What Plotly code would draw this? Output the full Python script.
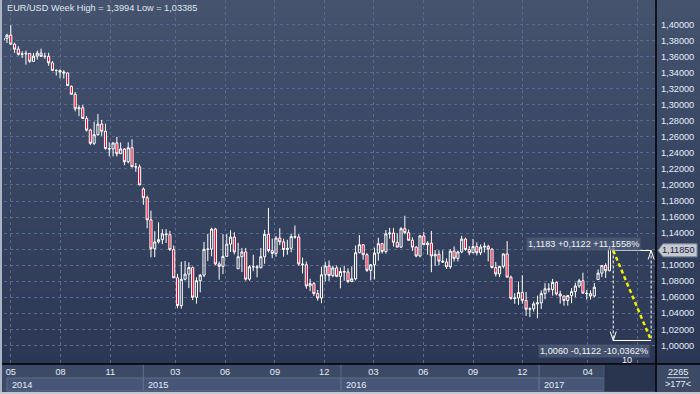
import pandas as pd
import plotly.graph_objects as go

# ---------------- data (weekly EUR/USD, weeks starting Sunday) ----------------
first_week = "2014-04-20"

opens = [
    # 2014
    1.3810, 1.3830, 1.3870, 1.3757, 1.3695, 1.3630, 1.3635, 1.3642, 1.3543, 1.3608,
    1.3645, 1.3605, 1.3605, 1.3524, 1.3429, 1.3429, 1.3410, 1.3398, 1.3230, 1.3132,
    1.2951, 1.2963, 1.2830, 1.2685, 1.2520, 1.2628, 1.2760, 1.2670, 1.2455, 1.2450,
    1.2525, 1.2390, 1.2450, 1.2290, 1.2465, 1.2228, 1.2225,
    # 2015
    1.1950, 1.1841, 1.1565, 1.1205, 1.1290, 1.1318, 1.1390, 1.1380, 1.1195, 1.0842,
    1.0495, 1.0824, 1.0888, 1.0970, 1.0600, 1.0806, 1.0875, 1.1197, 1.1200, 1.1450,
    1.1015, 1.0985, 1.1110, 1.1263, 1.1350, 1.0955, 1.1105, 1.1165, 1.0825, 1.0980,
    1.0980, 1.0968, 1.1105, 1.1385, 1.1182, 1.1147, 1.1338, 1.1290, 1.1195, 1.1210,
    1.1358, 1.1350, 1.1015, 1.1005, 1.0740, 1.0770, 1.0645, 1.0590, 1.0880, 1.0990,
    1.0870, 1.0965,
    # 2016
    1.0860, 1.0920, 1.0915, 1.0795, 1.0830, 1.1155, 1.1255, 1.1130, 1.0935, 1.1005,
    1.1150, 1.1268, 1.1170, 1.1390, 1.1400, 1.1285, 1.1225, 1.1455, 1.1405, 1.1310,
    1.1225, 1.1115, 1.1365, 1.1255, 1.1275, 1.1115, 1.1135, 1.1050, 1.1040, 1.0980,
    1.1175, 1.1085, 1.1165, 1.1325, 1.1195, 1.1155, 1.1232, 1.1155, 1.1225, 1.1235,
    1.1200, 1.0970, 1.0890, 1.0985, 1.1140, 1.0850, 1.0585, 1.0590, 1.0660, 1.0560,
    1.0450, 1.0455,
    # 2017
    1.0517, 1.0530, 1.0645, 1.0705, 1.0695, 1.0785, 1.0640, 1.0615, 1.0560, 1.0620,
    1.0670, 1.0740, 1.0805, 1.0650, 1.0645, 1.0615, 1.0820, 1.0900, 1.0995, 1.0930,
    1.1208,
]
highs = [
    1.3853, 1.3885, 1.3994, 1.3775, 1.3732, 1.3669, 1.3677, 1.3643, 1.3646, 1.3677,
    1.3701, 1.3650, 1.3650, 1.3546, 1.3444, 1.3443, 1.3433, 1.3402, 1.3243, 1.3160,
    1.2995, 1.3000, 1.2860, 1.2702, 1.2791, 1.2887, 1.2813, 1.2765, 1.2532, 1.2530,
    1.2601, 1.2531, 1.2457, 1.2532, 1.2570, 1.2275, 1.2255,
    1.1970, 1.1868, 1.1680, 1.1423, 1.1534, 1.1450, 1.1449, 1.1428, 1.1245, 1.0890,
    1.1043, 1.1052, 1.1035, 1.0985, 1.0849, 1.0890, 1.1290, 1.1391, 1.1467, 1.1465,
    1.1045, 1.1386, 1.1385, 1.1436, 1.1410, 1.1278, 1.1215, 1.1215, 1.0999, 1.1129,
    1.1000, 1.1214, 1.1441, 1.1714, 1.1332, 1.1361, 1.1460, 1.1330, 1.1317, 1.1393,
    1.1495, 1.1387, 1.1095, 1.1045, 1.0830, 1.0790, 1.0690, 1.0981, 1.1042, 1.1059,
    1.0993, 1.0995,
    1.0970, 1.0993, 1.0960, 1.0985, 1.1245, 1.1376, 1.1260, 1.1150, 1.1010, 1.1218,
    1.1342, 1.1278, 1.1438, 1.1465, 1.1465, 1.1398, 1.1475, 1.1616, 1.1445, 1.1347,
    1.1236, 1.1375, 1.1415, 1.1298, 1.1427, 1.1189, 1.1185, 1.1185, 1.1085, 1.1198,
    1.1234, 1.1180, 1.1366, 1.1342, 1.1240, 1.1327, 1.1285, 1.1258, 1.1282, 1.1255,
    1.1210, 1.1040, 1.0990, 1.1145, 1.1300, 1.0870, 1.0650, 1.0796, 1.0874, 1.0666,
    1.0475, 1.0546,
    1.0620, 1.0685, 1.0775, 1.0775, 1.0829, 1.0797, 1.0680, 1.0620, 1.0630, 1.0714,
    1.0780, 1.0830, 1.0906, 1.0690, 1.0685, 1.0778, 1.0947, 1.0999, 1.1023, 1.1212,
    1.1268,
]
lows = [
    1.3783, 1.3772, 1.3750, 1.3648, 1.3615, 1.3586, 1.3502, 1.3523, 1.3535, 1.3565,
    1.3605, 1.3575, 1.3487, 1.3422, 1.3366, 1.3332, 1.3329, 1.3240, 1.3130, 1.2920,
    1.2859, 1.2823, 1.2667, 1.2500, 1.2500, 1.2615, 1.2613, 1.2440, 1.2357, 1.2358,
    1.2355, 1.2390, 1.2247, 1.2270, 1.2220, 1.2165, 1.2000,
    1.1754, 1.1460, 1.1098, 1.1100, 1.1270, 1.1262, 1.1276, 1.1176, 1.0840, 1.0462,
    1.0457, 1.0810, 1.0713, 1.0565, 1.0520, 1.0660, 1.0850, 1.1050, 1.1110, 1.1000,
    1.0819, 1.0888, 1.1107, 1.1164, 1.1134, 1.0955, 1.0915, 1.0807, 1.0807, 1.0925,
    1.0848, 1.0960, 1.1017, 1.1158, 1.1087, 1.1105, 1.1250, 1.1106, 1.1130, 1.1160,
    1.1330, 1.0992, 1.0896, 1.0706, 1.0675, 1.0617, 1.0558, 1.0524, 1.0795, 1.0804,
    1.0850, 1.0850,
    1.0710, 1.0805, 1.0778, 1.0790, 1.0810, 1.1150, 1.1067, 1.0916, 1.0810, 1.0822,
    1.1057, 1.1145, 1.1144, 1.1330, 1.1233, 1.1217, 1.1215, 1.1385, 1.1305, 1.1178,
    1.1098, 1.1097, 1.1250, 1.1131, 1.0912, 1.0990, 1.1000, 1.1030, 1.0952, 1.0954,
    1.1045, 1.1046, 1.1150, 1.1180, 1.1123, 1.1150, 1.1120, 1.1125, 1.1158, 1.1047,
    1.0960, 1.0858, 1.0851, 1.0960, 1.0850, 1.0569, 1.0518, 1.0505, 1.0518, 1.0366,
    1.0352, 1.0420,
    1.03385, 1.0454, 1.0575, 1.0660, 1.0620, 1.0622, 1.0520, 1.0494, 1.0495, 1.0525,
    1.0600, 1.0715, 1.0650, 1.0570, 1.0570, 1.0600, 1.0820, 1.0850, 1.0838, 1.0925,
    1.1160,
]
closes = [
    1.3830, 1.3870, 1.3757, 1.3695, 1.3630, 1.3635, 1.3642, 1.3543, 1.3608, 1.3645,
    1.3605, 1.3605, 1.3524, 1.3429, 1.3429, 1.3410, 1.3398, 1.3240, 1.3132, 1.2951,
    1.2963, 1.2830, 1.2685, 1.2520, 1.2628, 1.2760, 1.2670, 1.2455, 1.2450, 1.2525,
    1.2390, 1.2450, 1.2290, 1.2465, 1.2228, 1.2225, 1.2000,
    1.1841, 1.1565, 1.1205, 1.1290, 1.1318, 1.1390, 1.1380, 1.1195, 1.0842, 1.0495,
    1.0824, 1.0888, 1.0970, 1.0600, 1.0806, 1.0875, 1.1197, 1.1200, 1.1450, 1.1015,
    1.0985, 1.1110, 1.1263, 1.1350, 1.1165, 1.1105, 1.1165, 1.0825, 1.0980, 1.0980,
    1.0968, 1.1105, 1.1385, 1.1182, 1.1147, 1.1338, 1.1290, 1.1195, 1.1210, 1.1358,
    1.1350, 1.1015, 1.1005, 1.0740, 1.0770, 1.0645, 1.0590, 1.0880, 1.0990, 1.0870,
    1.0965, 1.0860,
    1.0920, 1.0915, 1.0795, 1.0830, 1.1155, 1.1255, 1.1130, 1.0935, 1.1005, 1.1150,
    1.1268, 1.1170, 1.1390, 1.1400, 1.1285, 1.1225, 1.1455, 1.1405, 1.1310, 1.1225,
    1.1115, 1.1365, 1.1255, 1.1275, 1.1115, 1.1135, 1.1050, 1.1040, 1.0980, 1.1175,
    1.1085, 1.1165, 1.1325, 1.1195, 1.1155, 1.1232, 1.1155, 1.1225, 1.1235, 1.1200,
    1.0970, 1.0890, 1.0985, 1.1140, 1.0850, 1.0585, 1.0590, 1.0660, 1.0560, 1.0450,
    1.0455, 1.0517,
    1.0530, 1.0645, 1.0705, 1.0695, 1.0785, 1.0640, 1.0615, 1.0560, 1.0620, 1.0670,
    1.0740, 1.0805, 1.0650, 1.0645, 1.0615, 1.0725, 1.0900, 1.0995, 1.0930, 1.1208,
    1.1183,
]

y_tick_values = [1.00, 1.02, 1.04, 1.06, 1.08, 1.10, 1.12, 1.14, 1.16, 1.18, 1.20,
                 1.22, 1.24, 1.26, 1.28, 1.30, 1.32, 1.34, 1.36, 1.38, 1.40]
month_tick_dates = ["2014-05-01", "2014-08-01", "2014-11-01", "2015-03-01", "2015-06-01",
                    "2015-09-01", "2015-12-01", "2016-03-01", "2016-06-01", "2016-09-01",
                    "2016-12-01", "2017-04-01", "2017-07-01"]
month_tick_labels = ["05", "08", "11", "03", "06", "09", "12", "03", "06", "09", "12", "04", "07"]
year_starts = ["2014-04-24", "2015-01-01", "2016-01-01", "2017-01-01"]
year_labels = ["2014", "2015", "2016", "2017"]

title_text = "EUR/USD Week High = 1,3994 Low = 1,03385"
current_price = 1.11850
measure_top = 1.1183
measure_bottom = 1.0060
measure_bars = 10
measure_top_text = "1,1183 +0,1122 +11,1558%"
measure_bottom_text = "1,0060 -0,1122 -10,0362%"
corner_top = "2265"
corner_bottom = ">177<"

# ---------------- geometry / style ----------------
W, H = 700, 394
ML, MR, MT, MB = 4, 44, 0, 30
PW, PH = W - ML - MR, H - MT - MB
x_range = ["2014-04-18 12:00", "2017-08-05"]
y_range = [0.97667, 1.4308]
FONT = "Liberation Sans"
FS = 9.2
TXT = "#e4ecfa"
GRID = "#5a6a8e"


def px_x(p):
    return (p - ML) / PW


def px_y(p):
    return (MT + PH - p) / PH


def fmt(v, d):
    return f"{v:.{d}f}".replace(".", ",")


dates = pd.date_range(first_week, periods=len(opens), freq="7D")
bar_x = dates - pd.Timedelta(days=3)

fig = go.Figure()
fig.add_trace(go.Candlestick(
    x=bar_x, open=opens, high=highs, low=lows, close=closes,
    increasing=dict(line=dict(color="#ffffff", width=1), fillcolor="rgba(0,0,0,0)"),
    decreasing=dict(line=dict(color="#ffffff", width=1), fillcolor="#f2002c"),
    whiskerwidth=0, hoverinfo="skip", showlegend=False,
))

shapes = []
# background gradient (plot + right axis panel)
N = 40
top_c, bot_c = (69, 83, 111), (43, 55, 84)
for i in range(N):
    t = (i + 0.5) / N
    c = tuple(round(top_c[k] + (bot_c[k] - top_c[k]) * t) for k in range(3))
    shapes.append(dict(type="rect", xref="paper", yref="paper", layer="below",
                       x0=px_x(0), x1=px_x(W), y0=1 - (i + 1) / N, y1=1 - i / N,
                       fillcolor=f"rgb{c}", line=dict(width=0)))
# bottom axis band
shapes.append(dict(type="rect", xref="paper", yref="paper", layer="below",
                   x0=px_x(0), x1=px_x(W), y0=px_y(H), y1=px_y(364),
                   fillcolor="#3d4a66", line=dict(width=0)))
# year boxes
year_ends = year_starts[1:] + ["2017-05-01"]
for s, e in zip(year_starts, year_ends):
    shapes.append(dict(type="rect", xref="x", yref="paper", layer="above",
                       x0=s, x1=e, y0=px_y(391), y1=px_y(378),
                       fillcolor="#475677", line=dict(color="#5e6d8c", width=1)))
for s in year_starts[1:]:
    shapes.append(dict(type="line", xref="x", yref="paper", layer="above",
                       x0=s, x1=s, y0=px_y(391), y1=px_y(364),
                       line=dict(color="#5e6d8c", width=1)))
# dark future box
shapes.append(dict(type="rect", xref="x", yref="paper", layer="above",
                   x0="2017-05-01", x1=x_range[1], y0=px_y(392), y1=px_y(364.5),
                   fillcolor="#29344e", line=dict(color="#4b5875", width=1)))
# frame lines
shapes.append(dict(type="line", xref="paper", yref="paper", layer="above",
                   x0=px_x(0), x1=px_x(W), y0=0, y1=0, line=dict(color="#000000", width=1.5)))
shapes.append(dict(type="line", xref="paper", yref="paper", layer="above",
                   x0=1, x1=1, y0=px_y(392), y1=1, line=dict(color="#000000", width=1.5)))
shapes.append(dict(type="rect", xref="paper", yref="paper", layer="above",
                   x0=px_x(0), x1=px_x(2), y0=px_y(H), y1=1,
                   fillcolor="#aab4c6", line=dict(width=0)))
shapes.append(dict(type="rect", xref="paper", yref="paper", layer="above",
                   x0=px_x(0), x1=px_x(W), y0=px_y(H), y1=px_y(392),
                   fillcolor="#c2c8d2", line=dict(width=0)))
# corner underline
shapes.append(dict(type="line", xref="paper", yref="paper", layer="above",
                   x0=px_x(667), x1=px_x(689), y0=px_y(377.7), y1=px_y(377.7),
                   line=dict(color="#c8d0e0", width=1)))

# measurement tool
x_start = bar_x[-1]
x_end = bar_x[-1] + pd.Timedelta(weeks=measure_bars)
white = "#ffffff"
shapes += [
    dict(type="line", xref="x", yref="y", x0=x_start, x1=x_end, y0=measure_top, y1=measure_top,
         line=dict(color=white, width=1)),
    dict(type="line", xref="x", yref="y", x0=x_start, x1=x_end, y0=measure_bottom, y1=measure_bottom,
         line=dict(color=white, width=1)),
    dict(type="line", xref="x", yref="y", x0=x_start, x1=x_start, y0=measure_top, y1=measure_bottom,
         line=dict(color=white, width=1, dash="3px,2px")),
    dict(type="line", xref="x", yref="y", x0=x_end, x1=x_end, y0=measure_top, y1=measure_bottom,
         line=dict(color=white, width=1, dash="3px,2px")),
    dict(type="line", xref="x", yref="y", x0=x_start, x1=x_end, y0=measure_top, y1=measure_bottom,
         line=dict(color="#f2ee00", width=2.5, dash="4px,3px")),
]
for xa, ya, sgn in [(x_end, measure_top, -1), (x_start, measure_bottom, 1)]:
    for dx in (-3, 3):
        shapes.append(dict(type="line", xref="x", yref="y", xsizemode="pixel", ysizemode="pixel",
                           xanchor=xa, yanchor=ya, x0=0, y0=0, x1=dx, y1=sgn * 9,
                           line=dict(color=white, width=1)))

# current price tag
shapes.append(dict(type="path", xref="paper", yref="y", xsizemode="pixel", ysizemode="pixel",
                   xanchor=1, yanchor=current_price, layer="above",
                   path="M 2,0 L 7,6.5 L 41,6.5 L 41,-6.5 L 7,-6.5 Z",
                   fillcolor="#c4c9d2", line=dict(color="#7d8799", width=1)))

annotations = [
    dict(text=title_text, xref="paper", yref="paper", x=px_x(5), y=px_y(8.3),
         xanchor="left", yanchor="middle", showarrow=False,
         font=dict(family=FONT, size=FS, color="#dfe6f0")),
    dict(text=measure_top_text, xref="paper", yref="paper", x=px_x(583), y=px_y(243.5),
         xanchor="center", yanchor="middle", showarrow=False, bgcolor="rgba(80,94,122,0.75)",
         borderpad=1, font=dict(family=FONT, size=FS, color="#eef2fa")),
    dict(text=measure_bottom_text, xref="paper", yref="paper", x=px_x(594), y=px_y(350.5),
         xanchor="center", yanchor="middle", showarrow=False, bgcolor="rgba(80,94,122,0.75)",
         borderpad=1, font=dict(family=FONT, size=FS, color="#eef2fa")),
    dict(text=str(measure_bars), xref="paper", yref="paper", x=px_x(627), y=px_y(359.5),
         xanchor="center", yanchor="middle", showarrow=False,
         font=dict(family=FONT, size=FS, color="#eef2fa")),
    dict(text=fmt(current_price, 5), xref="paper", yref="y", x=px_x(679), y=current_price,
         xanchor="center", yanchor="middle", showarrow=False,
         font=dict(family=FONT, size=FS, color="#1e2638")),
    dict(text=corner_top, xref="paper", yref="paper", x=px_x(678), y=px_y(371.5),
         xanchor="center", yanchor="middle", showarrow=False,
         font=dict(family=FONT, size=FS, color=TXT)),
    dict(text=corner_bottom, xref="paper", yref="paper", x=px_x(678), y=px_y(384),
         xanchor="center", yanchor="middle", showarrow=False,
         font=dict(family=FONT, size=FS, color=TXT)),
]
for s, lab in zip(year_starts, year_labels):
    annotations.append(dict(text=lab, xref="x", yref="paper", x=s, y=px_y(384.5),
                            xanchor="left", yanchor="middle", xshift=3, showarrow=False,
                            font=dict(family=FONT, size=FS, color=TXT)))

month_text = [lab if d < "2017-05-01" else f'<span style="color:#6f7a90">{lab}</span>'
              for d, lab in zip(month_tick_dates, month_tick_labels)]

fig.update_layout(
    width=W, height=H, template="none",
    margin=dict(l=ML, r=MR, t=MT, b=MB, pad=0),
    paper_bgcolor="#3d4a66", plot_bgcolor="rgba(0,0,0,0)",
    showlegend=False, hovermode=False, boxgap=0.2,
    shapes=shapes, annotations=annotations,
    xaxis=dict(type="date", range=x_range, rangeslider=dict(visible=False),
               tickmode="array", tickvals=month_tick_dates, ticktext=month_text,
               showgrid=True, gridcolor=GRID, gridwidth=1, griddash="3px,3px",
               ticks="", showline=False, zeroline=False, automargin=False,
               ticklabelstandoff=1,
               tickfont=dict(family=FONT, size=FS, color=TXT)),
    yaxis=dict(side="right", range=y_range, tickmode="array", tickvals=y_tick_values,
               ticktext=[fmt(v, 5) for v in y_tick_values],
               showgrid=True, gridcolor=GRID, gridwidth=1, griddash="3px,3px",
               ticks="", showline=False, zeroline=False, automargin=False,
               ticklabelstandoff=4,
               tickfont=dict(family=FONT, size=FS, color=TXT)),
)

fig.write_html(
    "out.html",
    config={"displayModeBar": False, "staticPlot": True},
    post_script="document.body.style.margin='0';document.body.style.padding='0';"
                "document.body.style.overflow='hidden';",
)
